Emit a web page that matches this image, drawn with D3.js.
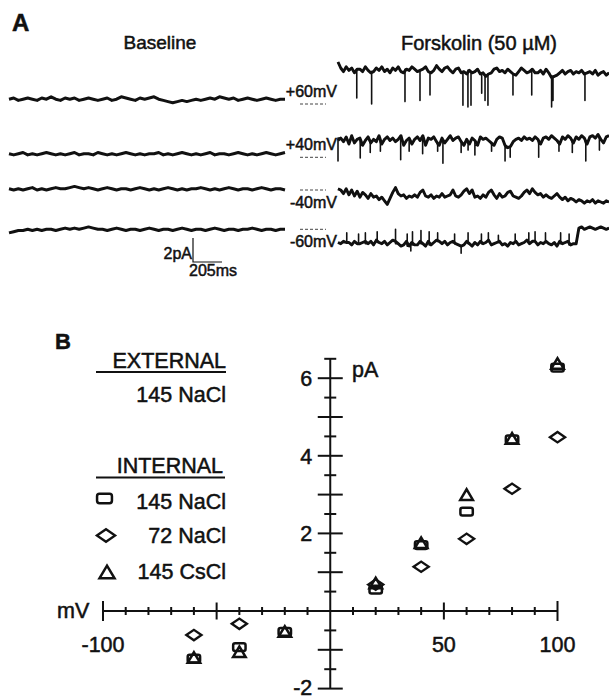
<!DOCTYPE html>
<html>
<head>
<meta charset="utf-8">
<script src="https://cdn.jsdelivr.net/npm/d3@7"></script>
<style>
  body { margin: 0; background: #fff; }
  svg { display: block; font-family: "Liberation Sans", Arial, Helvetica, sans-serif; }
  text { fill: #111; stroke: #111; stroke-width: 0.5px; }
</style>
</head>
<body>
<svg id="fig" width="609" height="700"></svg>
<script>
// ---- panel A: single channel recordings (current in pA, evenly sampled) ----
const holdLabels = ['+60mV', '+40mV', '-40mV', '-60mV'];
const traceMs = 1950;          // length of each sweep
const barPA = 2, barMs = 205;  // scale bar

const base60 = [.4,.5,.3,.4,.5,.4,.3,.5,.4,.6,.4,.3,.5,.4,.5,.3,.4,.5,.4,.3,.4,.5,.3,.4,.6,.5,.4,.3,.5,.4,.5,.6,.4,.3,.2,.1,.2,.3,.2,.3,.4,.3,.4,.5,.4,.6,.5,.4,.5,.3,.4,.5,.4,.3,.4,.5,.4,.3,.4,.4];
const base40 = [.3,.2,.3,.4,.2,.3,.2,.3,.4,.3,.2,.3,.2,.3,.4,.2,.3,.3,.2,.4,.3,.2,.3,.2,.3,.4,.3,.2,.3,.2,.3,.3,.4,.2,.3,.2,.3,.4,.3,.2,.3,.2,.3,.4,.2,.3,.3,.2,.3,.4,.3,.2,.3,.2,.3,.4,.3,.2,.3,.4];
const baseM40 = [.1,0,.1,0,.1,.2,0,.1,0,.1,.2,.1,.1,.2,.3,.2,.1,.2,.1,0,.1,.2,.1,0,.1,.1,0,.1,.2,.1,0,.1,0,.1,.2,.1,0,.1,0,.1,.1,.2,.1,0,.1,0,.1,.2,.1,0,.1,.1,0,.1,.2,.1,0,.1,.1,0];
const baseM60 = [-.3,-.2,-.1,-.1,0,-.1,0,-.1,0,0,-.1,0,.1,0,.1,0,.1,.2,.1,0,0,-.1,0,.1,0,-.1,0,0,-.1,0,.1,0,-.1,0,0,-.1,0,.1,0,-.1,0,0,-.1,0,.1,0,-.1,0,0,-.1,0,0,.1,0,-.1,0,0,-.1,0,0];

// forskolin: open-level noise plus brief transitions [ms, pA]
const fsk60 = [3.5,3.0,2.7,3.1,2.8,3.0,2.6,2.9,2.9,2.7,3.1,2.8,2.6,2.7,3.0,2.8,3.1,2.7,2.9,2.6,3.0,2.8,3.1,2.7,2.6,2.9,2.8,3.1,2.9,2.7,2.8,2.9,3.1,2.7,2.6,2.8,3.2,2.9,2.7,3.0,3.1,2.8,2.6,2.9,3.0,2.6,2.7,2.5,2.8,2.6,2.7,2.9,2.5,2.6,2.3,2.5,2.6,2.9,3.0,2.7,2.8,2.6,2.9,2.7,2.5,2.4,2.7,3.0,2.8,2.6,2.7,2.9,2.6,2.6,2.8,2.5,2.9,2.6,2.2,2.3,2.4,2.6,2.8,2.5,2.7,2.8,2.5,2.7,2.6,2.8,2.5,2.6,2.7,2.5,2.8,2.4,2.6,2.7,2.4,2.6];
const fsk60Events = [[135,0.5],[242,0.0],[482,0.2],[590,0.3],[662,0.75],[899,-0.1],[935,-0.25],[957,-0.1],[1034,0.9],[1058,0.3],[1079,-0.1],[1259,0.75],[1394,0.75],[1537,-0.25],[1547,0.3],[1777,0.3]];
const fsk40 = [1.4,1.6,1.3,1.7,1.1,1.8,1.2,1.5,1.6,1.0,1.4,1.7,1.2,1.5,1.3,1.8,1.1,1.5,1.7,1.4,1.6,1.3,1.5,1.8,1.0,1.4,1.6,1.1,1.5,1.7,1.4,1.8,1.0,1.6,1.5,1.7,1.3,1.0,1.6,1.2,1.5,1.8,1.4,1.6,1.7,1.3,1.0,1.5,1.1,1.6,1.4,1.0,1.7,1.5,1.6,1.4,1.2,1.0,1.5,1.7,1.6,1.0,0.8,0.9,1.3,1.5,1.6,1.4,1.7,1.5,1.6,1.4,1.7,1.5,1.1,1.6,1.7,1.5,1.8,1.6,1.4,1.1,1.7,1.5,1.8,1.6,1.2,1.7,1.5,1.8,1.6,1.1,1.7,1.8,1.6,1.9,1.5,1.2,1.7,1.8];
const fsk40Events = [[0,-0.3],[160,-0.05],[232,0.4],[305,0.5],[451,-0.2],[512,0.5],[609,0.3],[717,0.5],[755,-0.5],[886,0.4],[936,0.6],[985,0.2],[1105,0.5],[1202,-0.3],[1239,0.0],[1444,0.0],[1590,0.5],[1686,0.4],[1783,-0.3],[1881,0.6]];
const fskM40 = [0.1,0.0,-0.3,0.1,-0.4,0.0,-0.5,-0.1,-0.6,-0.2,-0.4,-0.7,-0.3,-0.6,-0.5,-0.8,-0.6,-0.9,-1.2,-0.7,-0.2,0.2,-0.3,-0.5,-0.4,-0.7,-0.5,-0.6,-0.4,-0.6,-0.2,0.0,-0.5,-0.6,-0.4,-0.7,-0.5,-0.6,-0.3,-0.6,-0.5,-0.4,0.0,-0.5,-0.6,-0.4,-0.1,0.1,-0.3,0.0,-0.6,-0.5,-0.7,-0.4,-0.6,-0.2,0.0,-0.4,-0.7,-0.3,-0.6,-0.5,-0.2,-0.1,-0.5,-0.6,-0.7,-0.5,-0.2,0.0,-0.3,0.1,-0.2,-0.4,-0.3,-0.6,-0.4,-0.6,-0.7,-0.5,-0.3,-0.6,-0.8,-0.6,-0.9,-0.7,-0.8,-1.0,-0.8,-0.9,-1.1,-0.9,-1.0,-0.8,-1.1,-0.9,-1.0,-1.1,-0.9,-1.0];
const fskM40Events = [];
const fskM60 = [-1.1,-1.2,-1.0,-1.1,-1.1,-1.3,-1.0,-1.2,-1.2,-1.1,-1.0,-1.2,-1.0,-1.3,-0.9,-1.1,-1.2,-1.0,-1.3,-1.1,-0.9,-1.0,-1.2,-1.4,-1.3,-1.0,-1.4,-1.1,-1.3,-1.3,-1.0,-1.2,-1.4,-1.0,-1.3,-1.1,-0.9,-1.0,-1.2,-1.0,-1.3,-1.1,-1.0,-1.2,-1.3,-1.4,-1.3,-1.0,-1.2,-1.4,-1.1,-1.3,-1.0,-1.2,-1.1,-0.9,-1.3,-1.2,-1.1,-1.0,-1.3,-1.2,-1.4,-1.1,-1.2,-1.0,-1.3,-1.2,-1.1,-0.9,-1.2,-1.0,-1.0,-1.3,-1.1,-1.2,-1.0,-1.2,-1.3,-1.1,-1.4,-1.0,-1.2,-1.1,-1.0,-1.3,-1.2,-1.2,0.1,0.2,0.0,0.1,0.2,0.1,0.0,0.1,0.2,0.1,0.0,0.1];
const fskM60Events = [[63,-0.3],[148,-0.4],[197,-0.3],[282,-0.2],[414,0.0],[498,-0.4],[524,-1.8],[536,-0.2],[597,-0.1],[656,-0.2],[717,-0.3],[839,-0.4],[886,-2.0],[936,-0.3],[1032,-0.4],[1082,-0.3],[1154,-0.5],[1275,-0.4],[1373,-0.3],[1418,-0.2],[1493,-0.3],[1602,-0.3],[1663,-0.4]];

const baselineTraces = [base60, base40, baseM40, baseM60];
const forskolinTraces = [fsk60, fsk40, fskM40, fskM60];
const forskolinEvents = [fsk60Events, fsk40Events, fskM40Events, fskM60Events];

// ---- panel B: I-V relation ----
const voltages = [-60, -40, -20, 20, 40, 60, 80, 100];
const nacl145 = [-1.23, -0.93, -0.54, 0.55, 1.7, 2.56, 4.42, 6.27];
const nacl72  = [-0.62, -0.33, null, 0.68, 1.14, 1.86, 3.15, 4.48];
const cscl145 = [-1.2, -1.05, -0.53, 0.72, 1.76, 3.0, 4.45, 6.38];
const seriesNames = ['145 NaCl', '72 NaCl', '145 CsCl'];
const xTickLabels = [-100, 50, 100];
const yTickLabels = [-2, 2, 4, 6];

const ink = '#111';
const svg = d3.select('#fig');

// ================= panel A =================
svg.append('text').attr('x', 12).attr('y', 31)
  .style('font-size', '24px').style('font-weight', 'bold').text('A');
svg.append('text').attr('x', 160).attr('y', 49).attr('text-anchor', 'middle')
  .style('font-size', '19px').text('Baseline');
svg.append('text').attr('x', 479).attr('y', 50).attr('text-anchor', 'middle')
  .style('font-size', '20px').text('Forskolin (50 \u00B5M)');

const rowZero = [104, 157.3, 190, 229.3];     // zero-current level of each row
const xBase = d3.scaleLinear().domain([0, traceMs]).range([9, 285]);
const xFsk = d3.scaleLinear().domain([0, traceMs]).range([338, 609]);
const pxPerPA = 12;

// samples -> [ms, pA] points, with each brief transition spliced in as a needle
function tracePoints(vals, events) {
  const step = traceMs / (vals.length - 1);
  const ev = events.slice().sort((a, b) => a[0] - b[0]);
  const out = [];
  let e = 0;
  vals.forEach((v, i) => {
    const t = i * step;
    while (e < ev.length && ev[e][0] < t) {
      out.push([ev[e][0], v], [ev[e][0], ev[e][1]], [ev[e][0], v]);
      e++;
    }
    out.push([t, v]);
  });
  return out;
}

function drawTrace(pts, xs, zero, width) {
  const yy = d3.scaleLinear().domain([0, 1]).range([zero, zero - pxPerPA]);
  const line = d3.line().x(d => xs(d[0])).y(d => yy(d[1]));
  svg.append('path').attr('d', line(pts))
    .attr('fill', 'none').attr('stroke', ink)
    .attr('stroke-width', width).attr('stroke-linejoin', 'round');
}

holdLabels.forEach((lab, r) => {
  const z = rowZero[r];
  drawTrace(tracePoints(baselineTraces[r], []), xBase, z, 3);
  // thick open-level band, then thin needles for the brief transitions
  drawTrace(tracePoints(forskolinTraces[r], []), xFsk, z, 2.9);
  drawTrace(tracePoints(forskolinTraces[r], forskolinEvents[r]), xFsk, z, 1.6);
  // zero-current dashes
  svg.append('line').attr('x1', 300).attr('x2', 326).attr('y1', z).attr('y2', z)
    .attr('stroke', '#444').attr('stroke-width', 1).attr('stroke-dasharray', '3,2');
  const above = lab[0] === '+';
  svg.append('text').attr('x', 337).attr('y', above ? z - 7 : z + 18)
    .attr('text-anchor', 'end').style('font-size', '16px').text(lab);
});

// scale bar
const barX = 193, barY = 262;
const barH = barPA * pxPerPA;
const barW = xBase(barMs) - xBase(0);
svg.append('path')
  .attr('d', `M${barX},${barY - barH}V${barY}H${barX + barW}`)
  .attr('fill', 'none').attr('stroke', ink).attr('stroke-width', 1.2);
svg.append('text').attr('x', barX - 1).attr('y', barY - 3).attr('text-anchor', 'end')
  .style('font-size', '16px').text(barPA + 'pA');
svg.append('text').attr('x', barX - 4).attr('y', barY + 14)
  .style('font-size', '16px').text(barMs + 'ms');

// ================= panel B =================
const x = d3.scaleLinear().domain([-100, 100]).range([103, 557.5]);
const y = d3.scaleLinear().domain([-2, 6.5]).range([688.6, 358.8]);
const x0 = x(0), y0 = y(0);
const g = svg.append('g').attr('stroke', ink).attr('stroke-width', 2);

g.append('line').attr('x1', x(-100)).attr('x2', x(100)).attr('y1', y0).attr('y2', y0);
g.append('line').attr('x1', x0).attr('x2', x0).attr('y1', y(-2)).attr('y2', y(6.5));

d3.range(-100, 101, 10).filter(v => v !== 0).forEach(v => {
  const len = Math.abs(v) === 100 ? 10 : Math.abs(v) === 50 ? 8.5 : 4;
  g.append('line').attr('x1', x(v)).attr('x2', x(v)).attr('y1', y0 - len).attr('y2', y0 + len);
});
d3.range(-2, 6.51, 0.5).filter(v => v !== 0).forEach(v => {
  const len = Number.isInteger(v) ? 12.5 : 6;
  g.append('line').attr('x1', x0 - len).attr('x2', x0 + len).attr('y1', y(v)).attr('y2', y(v));
});

const lab = svg.append('g').style('font-size', '21.5px');
xTickLabels.forEach(v => lab.append('text').attr('x', x(v)).attr('y', 652)
  .attr('text-anchor', 'middle').text(v));
yTickLabels.forEach(v => lab.append('text').attr('x', x0 - 18).attr('y', Math.min(y(v) + 8, 695))
  .attr('text-anchor', 'end').text(v));
lab.append('text').attr('x', 352).attr('y', 377).text('pA');
lab.append('text').attr('x', 57).attr('y', 618).text('mV');

// symbols
function square(sel, cx, cy, s) {
  sel.append('rect').attr('x', cx - 6.2 * s).attr('y', cy - 3.9 * s)
    .attr('width', 12.4 * s).attr('height', 7.8 * s).attr('rx', 2 * s)
    .attr('fill', 'none').attr('stroke', ink).attr('stroke-width', 2.5);
}
function diamond(sel, cx, cy, s) {
  const w = 7.6 * s, h = 5.2 * s;
  sel.append('path').attr('d', `M${cx - w},${cy}L${cx},${cy - h}L${cx + w},${cy}L${cx},${cy + h}Z`)
    .attr('fill', 'none').attr('stroke', ink).attr('stroke-width', 2.3).attr('stroke-linejoin', 'miter');
}
function triangle(sel, cx, cy, s) {
  const w = 6.3 * s, h = 5.3 * s;
  sel.append('path').attr('d', `M${cx - w},${cy + h}L${cx},${cy - h}L${cx + w},${cy + h}Z`)
    .attr('fill', 'none').attr('stroke', ink).attr('stroke-width', 2.5).attr('stroke-linejoin', 'miter');
}
const shapes = [square, diamond, triangle];
const seriesVals = [nacl145, nacl72, cscl145];

const pts = svg.append('g');
seriesVals.forEach((vals, k) => {
  vals.forEach((v, i) => {
    if (v === null) return;
    shapes[k](pts, x(voltages[i]), y(v), 1);
  });
});

// legend
svg.append('text').attr('x', 55).attr('y', 349)
  .style('font-size', '22px').style('font-weight', 'bold').text('B');
const leg = svg.append('g').style('font-size', '21.5px');
leg.append('text').attr('x', 226).attr('y', 368).attr('text-anchor', 'end').text('EXTERNAL');
leg.append('line').attr('x1', 96).attr('x2', 226).attr('y1', 372).attr('y2', 372)
  .attr('stroke', ink).attr('stroke-width', 2.2);
leg.append('text').attr('x', 226).attr('y', 402).attr('text-anchor', 'end').text('145 NaCl');
leg.append('text').attr('x', 223).attr('y', 473).attr('text-anchor', 'end').text('INTERNAL');
leg.append('line').attr('x1', 96).attr('x2', 225).attr('y1', 477.5).attr('y2', 477.5)
  .attr('stroke', ink).attr('stroke-width', 2.2);

const legY = [509, 543, 579];
const legSym = [[104.5, 498.5], [106, 535.5], [107, 572]];
seriesNames.forEach((name, k) => {
  leg.append('text').attr('x', 226).attr('y', legY[k]).attr('text-anchor', 'end').text(name);
  shapes[k](leg, legSym[k][0], legSym[k][1], 1.2);
});
</script>
</body>
</html>
